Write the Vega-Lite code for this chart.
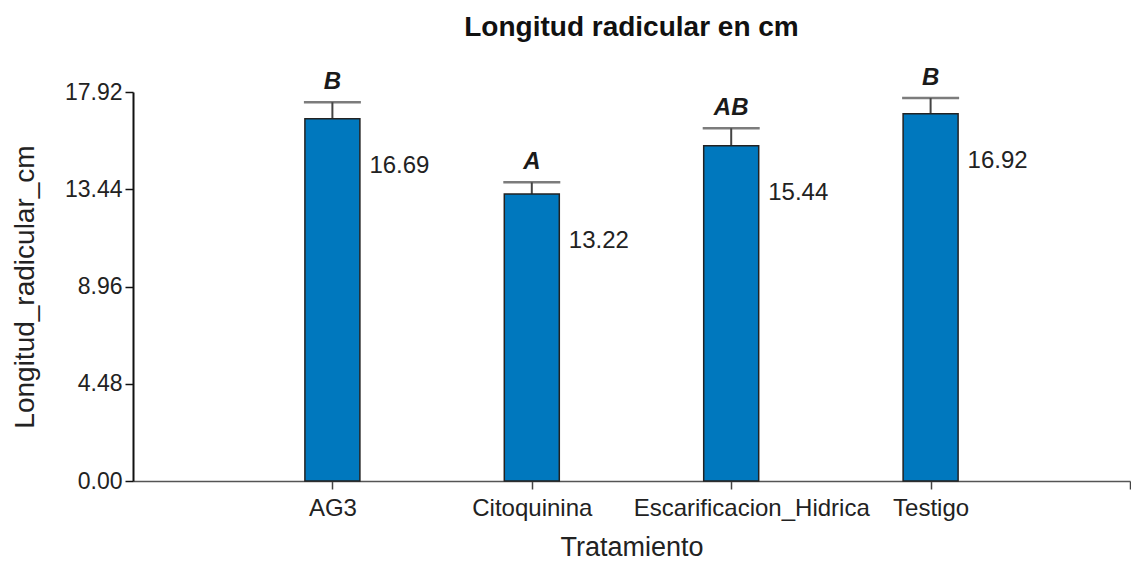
{
  "$schema": "https://vega.github.io/schema/vega-lite/v6.json",
  "width": 997,
  "height": 389,
  "autosize": "none",
  "padding": {"left": 133, "top": 92, "right": 1, "bottom": 80},
  "background": "white",
  "config": {
    "view": {"stroke": null},
    "font": "Liberation Sans"
  },
  "title": {
    "text": "Longitud radicular en cm",
    "fontSize": 28,
    "fontWeight": "bold",
    "color": "#111111",
    "anchor": "middle",
    "frame": "group",
    "offset": 24
  },
  "data": {
    "values": [
      {"Tratamiento": "AG3", "media": 16.69, "sup": 17.45, "letra": "B"},
      {"Tratamiento": "Citoquinina", "media": 13.22, "sup": 13.76, "letra": "A"},
      {"Tratamiento": "Escarificacion_Hidrica", "media": 15.44, "sup": 16.25, "letra": "AB"},
      {"Tratamiento": "Testigo", "media": 16.92, "sup": 17.64, "letra": "B"}
    ]
  },
  "encoding": {
    "x": {
      "field": "Tratamiento",
      "type": "nominal",
      "sort": null,
      "scale": {
        "type": "point",
        "domain": ["AG3", "Citoquinina", "Escarificacion_Hidrica", "Testigo", "END"],
        "padding": 0.5,
        "align": 1
      },
      "axis": {
        "title": "Tratamiento",
        "titleFontSize": 27,
        "titleFontWeight": "normal",
        "titleColor": "#222222",
        "titlePadding": 14,
        "labelAngle": 0,
        "labelFontSize": 24,
        "labelColor": "#222222",
        "labelPadding": 7,
        "labelLimit": 0,
        "labelOffset": {"condition": {"test": "datum.value == 'Escarificacion_Hidrica'", "value": 20}, "value": 0},
        "labelExpr": "datum.value == 'END' ? '' : datum.value",
        "domainColor": "#555555",
        "domainWidth": 1.5,
        "tickColor": "#444444",
        "tickWidth": 1.5,
        "tickSize": 8,
        "grid": false
      }
    }
  },
  "layer": [
    {
      "mark": {"type": "rule", "color": "#444444", "strokeWidth": 2},
      "encoding": {
        "y": {"field": "media", "type": "quantitative"},
        "y2": {"field": "sup"}
      }
    },
    {
      "mark": {"type": "tick", "color": "#444444", "thickness": 2.5, "size": 57, "orient": "horizontal"},
      "encoding": {
        "y": {"field": "sup", "type": "quantitative"}
      }
    },
    {
      "mark": {"type": "bar", "width": 55, "fill": "#0078BE", "stroke": "#222222", "strokeWidth": 1.5},
      "encoding": {
        "y": {
          "field": "media",
          "type": "quantitative",
          "scale": {"domain": [0, 17.92], "nice": false, "zero": true},
          "axis": {
            "title": "Longitud_radicular_cm",
            "titleFontSize": 28,
            "titleFontWeight": "normal",
            "titleColor": "#222222",
            "titleAngle": -90,
            "titleX": -108,
            "titleY": 194.5,
            "titleAlign": "center",
            "titleBaseline": "middle",
            "values": [0, 4.48, 8.96, 13.44, 17.92],
            "format": ".2f",
            "labelFontSize": 23,
            "labelColor": "#222222",
            "labelPadding": 3,
            "domainColor": "#111111",
            "domainWidth": 2,
            "tickColor": "#111111",
            "tickWidth": 1.5,
            "tickSize": 8,
            "grid": false
          }
        }
      }
    },
    {
      "mark": {"type": "text", "align": "left", "baseline": "middle", "dx": 37, "dy": 47, "fontSize": 24, "color": "#222222"},
      "encoding": {
        "y": {"field": "media", "type": "quantitative"},
        "text": {"field": "media", "type": "quantitative", "format": ".2f"}
      }
    },
    {
      "mark": {"type": "text", "align": "center", "baseline": "alphabetic", "dy": -13, "fontSize": 24, "fontWeight": "bold", "fontStyle": "italic", "color": "#1a1a1a"},
      "encoding": {
        "y": {"field": "sup", "type": "quantitative"},
        "text": {"field": "letra", "type": "nominal"}
      }
    }
  ]
}
